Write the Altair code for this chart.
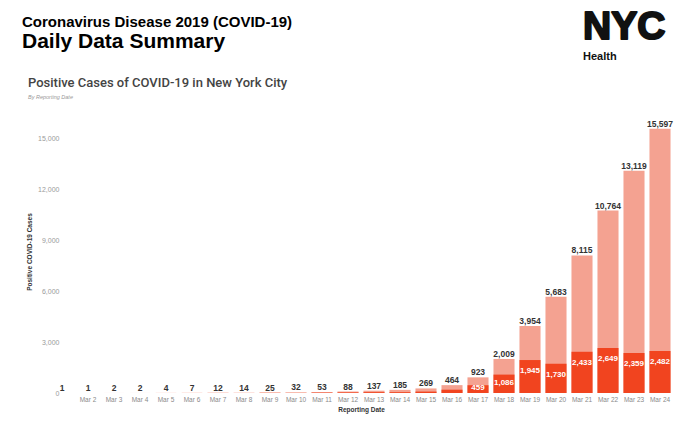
import altair as alt
import pandas as pd

dates = ["Mar 1", "Mar 2", "Mar 3", "Mar 4", "Mar 5", "Mar 6", "Mar 7", "Mar 8",
         "Mar 9", "Mar 10", "Mar 11", "Mar 12", "Mar 13", "Mar 14", "Mar 15", "Mar 16",
         "Mar 17", "Mar 18", "Mar 19", "Mar 20", "Mar 21", "Mar 22", "Mar 23", "Mar 24"]
totals = [1, 1, 2, 2, 4, 7, 12, 14, 25, 32, 53, 88, 137, 185, 269, 464,
          923, 2009, 3954, 5683, 8115, 10764, 13119, 15597]
daily = [1, 0, 1, 0, 2, 3, 5, 2, 11, 7, 21, 35, 49, 48, 84, 195,
         459, 1086, 1945, 1730, 2433, 2649, 2359, 2482]
y_ticks = [0, 3000, 6000, 9000, 12000, 15000]

df = pd.DataFrame({"date": dates, "total": totals, "daily": daily})

LIGHT = "#F4A291"
DARK = "#F1441F"
FONT = "Liberation Sans"

x_axis = alt.Axis(title="Reporting Date", labelAngle=0, ticks=False, domain=False,
                  labelFont=FONT, labelFontSize=6.5, labelColor="#8a8a8a",
                  labelPadding=3, titleFont=FONT, titleFontSize=6.5,
                  titleFontWeight="bold", titleColor="#333333", titlePadding=4,
                  labelExpr="datum.value == 'Mar 1' ? '' : datum.value")
x_scale = alt.Scale(paddingInner=0.19, paddingOuter=0.095)
y_axis = alt.Axis(values=y_ticks, title="Positive COVID-19 Cases",
                  labelExpr="format(datum.value, ',')",
                  grid=False, ticks=False, domain=False, offset=-11,
                  labelFont=FONT, labelFontSize=7, labelColor="#9a9a9a",
                  labelPadding=1, titleFont=FONT, titleFontSize=6.5,
                  titleFontWeight="bold", titleColor="#333333", titlePadding=5)
y_scale = alt.Scale(domain=[0, 16700], nice=False)


def xe():
    return alt.X("date:N", sort=dates, scale=x_scale, axis=x_axis)


def ye(field):
    return alt.Y(field, scale=y_scale, axis=y_axis)


base = alt.Chart(df)

bars_total = base.mark_bar(color=LIGHT).encode(x=xe(), y=ye("total:Q"))

bars_daily = base.mark_bar(color=DARK).encode(x=xe(), y=ye("daily:Q"))

text_total = base.mark_text(font=FONT, fontSize=8.5, fontWeight="bold", color="#333333",
                            baseline="alphabetic", dy=-2).encode(
    x=xe(), y=ye("total:Q"),
    text=alt.Text("total:Q", format=","),
)

text_daily = base.transform_filter("datum.daily >= 400").transform_calculate(
    pos="max(datum.daily - 640, datum.daily / 2 + 60)"
).mark_text(font=FONT, fontSize=8, fontWeight="bold", color="white",
            baseline="middle").encode(
    x=xe(), y=ye("pos:Q"),
    text=alt.Text("daily:Q", format=","),
)

one = pd.DataFrame({"k": [0]})


def label(txt, x, y, size, weight="normal", color="#000000", style="normal", font=FONT,
          stroke=0):
    kw = dict(text=txt, font=font, fontSize=size, fontWeight=weight, fontStyle=style,
              color=color, align="left", baseline="alphabetic")
    if stroke:
        kw.update(stroke=color, strokeWidth=stroke, strokeJoin="round")
    return alt.Chart(one).mark_text(**kw).encode(x=alt.value(x), y=alt.value(y))


h1 = label("Coronavirus Disease 2019 (COVID-19)", -27, -83, 15, "bold")
h2 = label("Daily Data Summary", -27, -62, 21, "bold")
t1 = label("Positive Cases of COVID-19 in New York City", -21, -23, 13, 500, "#444444",
           font="Roboto")
t2 = label("By Reporting Date", -21, -11, 5.5, "normal", "#999999", "italic")
logo = label("NYC", 534, -71, 39, "bold", "#111111", stroke=2)
logo2 = label("Health", 534, -50, 11, "bold", "#111111")

chart = alt.layer(bars_total, bars_daily, text_total, text_daily,
                  h1, h2, t1, t2, logo, logo2).properties(
    width=624, height=283,
    autosize=alt.AutoSizeParams(type="none"),
    padding={"left": 41, "top": 102, "right": 6, "bottom": 33},
    background="white",
).configure_view(stroke=None)

chart.save("out.html", embed_options={"renderer": "svg", "actions": False})
